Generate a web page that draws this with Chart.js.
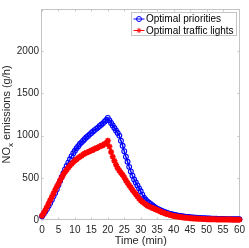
<!DOCTYPE html>
<html>
<head>
<meta charset="utf-8">
<script src="https://cdn.jsdelivr.net/npm/chart.js@4.4.0/dist/chart.umd.min.js"></script>
<style>
  html, body { margin: 0; padding: 0; background: #fff; }
  #wrap { width: 249px; height: 248px; position: relative; }
</style>
</head>
<body>
<div id="wrap"><canvas id="noxChart"></canvas></div>
<script>
// sampling grid, every half minute
const times = Array.from({ length: 121 }, (_, i) => i / 2);

const priorities = [
  45, 70, 100, 130, 165, 200, 240, 280, 320, 365,
  415, 462, 510, 555, 600, 640, 680, 720, 757, 792,
  820, 850, 875, 900, 920, 940, 960, 980, 995, 1015,
  1030, 1050, 1065, 1080, 1095, 1115, 1130, 1145, 1165, 1185,
  1210,
  1180, 1150, 1120, 1090, 1060, 1030, 1000, 940, 880, 815,
  750, 690, 630, 575, 525, 480, 445, 410, 375, 340,
  300, 265, 240, 220, 205, 190, 175, 160, 147, 135,
  125, 115, 107, 99, 92, 85, 79, 73, 68, 63,
  59, 55, 51, 48, 45, 42, 39, 37, 35, 33,
  31, 29, 27, 26, 24, 23, 22, 21, 20, 19,
  18, 17, 16, 15, 14, 14, 13, 12, 12, 11,
  11, 10, 10, 9, 9, 9, 8, 8, 8, 8,
];

const trafficLights = [
  50, 80, 115, 155, 195, 235, 275, 315, 355, 395,
  430, 470, 505, 540, 570, 595, 620, 645, 665, 685,
  705, 720, 735, 750, 760, 775, 790, 795, 805, 815,
  825, 830, 845, 850, 860, 870, 880, 885, 900, 910,
  940,
  870, 805, 750, 700, 655, 615, 585, 560, 535, 505,
  470, 440, 410, 385, 355, 330, 305, 280, 255, 232,
  215, 200, 187, 172, 162, 152, 143, 135, 127, 118,
  109, 100, 92, 84, 77, 70, 64, 58, 53, 48,
  44, 41, 38, 35, 32, 30, 28, 26, 24, 22,
  20, 19, 17, 16, 15, 14, 13, 12, 11, 10,
  10, 9, 9, 8, 8, 7, 7, 7, 6, 6,
  6, 5, 5, 5, 5, 4, 4, 4, 4, 4,
];

const xTicks = [0, 5, 10, 15, 20, 25, 30, 35, 40, 45, 50, 55, 60];
const yTicks = [0, 500, 1000, 1500, 2000];
const seriesNames = ["Optimal priorities", "Optimal traffic lights"];

const FONT = '"Liberation Sans", Arial, sans-serif';
const AXIS_GREY = "#c4c4c4";
Chart.defaults.font.family = FONT;

// box round the plot + small inward ticks (matlab style)
const frame = {
  id: "frame",
  beforeDatasetsDraw(chart) {
    const { ctx, chartArea: a, scales } = chart;
    const l = Math.round(a.left) - 0.5, r = Math.round(a.right) + 0.5;
    const t = Math.round(a.top) + 0.5, b = Math.round(a.bottom) - 0.5;
    ctx.save();
    ctx.strokeStyle = AXIS_GREY;
    ctx.lineWidth = 1;
    ctx.strokeRect(l, t, r - l, b - t);
    ctx.beginPath();
    xTicks.forEach((v) => {
      const px = Math.round(scales.x.getPixelForValue(v)) + 0.5;
      ctx.moveTo(px, b); ctx.lineTo(px, b - 2);
      ctx.moveTo(px, t); ctx.lineTo(px, t + 2);
    });
    yTicks.forEach((v) => {
      const py = Math.round(scales.y.getPixelForValue(v)) + 0.5;
      ctx.moveTo(l, py); ctx.lineTo(l + 2, py);
      ctx.moveTo(r, py); ctx.lineTo(r - 2, py);
    });
    ctx.stroke();

    // y title with subscript x
    ctx.fillStyle = "#262626";
    ctx.translate(10, (a.top + a.bottom) / 2);
    ctx.rotate(-Math.PI / 2);
    ctx.textBaseline = "alphabetic";
    ctx.font = "11px " + FONT;
    const w1 = ctx.measureText("NO").width;
    const w3 = ctx.measureText(" emissions (g/h)").width;
    ctx.font = "8px " + FONT;
    const w2 = ctx.measureText("x").width;
    let x = -(w1 + w2 + w3) / 2;
    ctx.font = "11px " + FONT;
    ctx.fillText("NO", x, 0);
    ctx.font = "8px " + FONT;
    ctx.fillText("x", x + w1, 3);
    ctx.font = "11px " + FONT;
    ctx.fillText(" emissions (g/h)", x + w1 + w2, 0);
    ctx.restore();
  },
};

// legend box inside the plot, top right
const boxLegend = {
  id: "boxLegend",
  afterDraw(chart) {
    const { ctx, chartArea: a } = chart;
    const x0 = Math.round(a.right) - 107.5, y0 = Math.round(a.top) + 3.5;
    const w = 105, h = 23;
    ctx.save();
    ctx.fillStyle = "#fff";
    ctx.fillRect(x0, y0, w, h);
    ctx.strokeStyle = AXIS_GREY;
    ctx.lineWidth = 1;
    ctx.strokeRect(x0, y0, w, h);
    seriesNames.forEach((name, i) => {
      const ds = chart.data.datasets[i];
      const cy = y0 + 6.5 + i * 11.5;
      ctx.strokeStyle = ds.borderColor;
      ctx.lineWidth = 1;
      ctx.beginPath();
      ctx.moveTo(x0 + 2, cy);
      ctx.lineTo(x0 + 13, cy);
      ctx.stroke();
      ctx.fillStyle = ds.pointBackgroundColor;
      ctx.lineWidth = 1;
      Chart.helpers.drawPoint(ctx, {
        pointStyle: ds.pointStyle,
        radius: 2.5,
        borderWidth: 1,
        rotation: 0,
      }, x0 + 7.5, cy);
      ctx.fillStyle = "#000";
      ctx.font = "10px " + FONT;
      ctx.textBaseline = "middle";
      ctx.fillText(name, x0 + 14.5, cy + 0.5);
    });
    ctx.restore();
  },
};

new Chart(document.getElementById("noxChart").getContext("2d"), {
  type: "line",
  data: {
    datasets: [
      {
        label: seriesNames[0],
        data: times.map((t, i) => ({ x: t, y: priorities[i] })),
        borderColor: "#0000ff",
        borderWidth: 1.5,
        pointStyle: "circle",
        pointRadius: 2.4,
        pointBorderWidth: 1.1,
        pointBorderColor: "#0000ff",
        pointBackgroundColor: "rgba(0,0,0,0)",
        order: 1,
        clip: 4,
      },
      {
        label: seriesNames[1],
        data: times.map((t, i) => ({ x: t, y: trafficLights[i] })),
        borderColor: "#ff0000",
        borderWidth: 1.5,
        pointStyle: "star",
        pointRadius: 3,
        pointBorderWidth: 1.6,
        pointBorderColor: "#ff0000",
        pointBackgroundColor: "#ff0000",
        order: 0,
        clip: 4,
      },
    ],
  },
  options: {
    responsive: true,
    maintainAspectRatio: false,
    animation: false,
    events: [],
    layout: { padding: { top: 0, right: 5, left: 0, bottom: 0 } },
    plugins: { legend: { display: false }, tooltip: { enabled: false } },
    scales: {
      x: {
        type: "linear",
        min: 0,
        max: 60,
        afterBuildTicks: (s) => { s.ticks = xTicks.map((v) => ({ value: v })); },
        afterFit: (s) => { s.height = 28; },
        grid: { display: false, drawTicks: false },
        border: { display: false },
        ticks: {
          font: { size: 10 },
          color: "#262626",
          padding: 4,
          maxRotation: 0,
          callback: (v) => String(v),
        },
        title: {
          display: true,
          text: "Time (min)",
          font: { size: 11 },
          color: "#262626",
          padding: { top: 0, bottom: 0 },
        },
      },
      y: {
        type: "linear",
        min: 0,
        max: 2500,
        afterBuildTicks: (s) => { s.ticks = yTicks.map((v) => ({ value: v })); },
        afterFit: (s) => { s.width = 42; },
        grid: { display: false, drawTicks: false },
        border: { display: false },
        ticks: {
          font: { size: 10 },
          color: "#262626",
          padding: 3,
          callback: (v) => String(v),
        },
      },
    },
  },
  plugins: [frame, boxLegend],
});
</script>
</body>
</html>
